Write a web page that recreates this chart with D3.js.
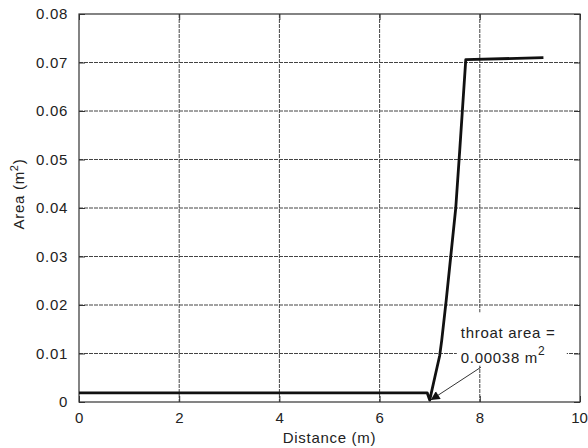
<!DOCTYPE html>
<html>
<head>
<meta charset="utf-8">
<script src="https://cdn.jsdelivr.net/npm/d3@7"></script>
<style>
  html, body { margin: 0; padding: 0; background: #fff; }
  text { font-family: "Liberation Sans", Arial, Helvetica, sans-serif; fill: #222; }
</style>
</head>
<body>
<svg id="chart" width="588" height="448"></svg>
<script>
// ---- data ----
const distance = [0, 6.95, 7.0, 7.1, 7.2, 7.24, 7.33, 7.42, 7.52, 7.6, 7.72, 9.27];
const area     = [0.0019, 0.0019, 0.00038, 0.005, 0.0096, 0.0127, 0.021, 0.030, 0.040, 0.052, 0.0706, 0.0710];
const xTicks = [0, 2, 4, 6, 8, 10];
const yTicks = [0, 0.01, 0.02, 0.03, 0.04, 0.05, 0.06, 0.07, 0.08];
const yTickLabels = ["0", "0.01", "0.02", "0.03", "0.04", "0.05", "0.06", "0.07", "0.08"];
const annotationLines = ["throat area =", "0.00038 m"];
const arrowFrom = [8.02, 0.00715];
const arrowTo = [7.02, 0.0004];
const xLabel = "Distance (m)";
const yLabel = "Area (m";

// ---- layout ----
const W = 588, H = 448;
const m = { left: 79, right: 8, top: 14, bottom: 46 };
const svg = d3.select("#chart");
const x = d3.scaleLinear().domain([0, 10]).range([m.left, W - m.right]);
const y = d3.scaleLinear().domain([0, 0.08]).range([H - m.bottom, m.top]);
const iw = W - m.left - m.right, ih = H - m.top - m.bottom;

svg.append("defs").append("marker")
  .attr("id", "arrow").attr("viewBox", "0 0 10 10")
  .attr("refX", 10).attr("refY", 5)
  .attr("markerWidth", 14).attr("markerHeight", 9)
  .attr("markerUnits", "userSpaceOnUse")
  .attr("orient", "auto")
  .append("path").attr("d", "M0,0 L10,5 L0,10 z").attr("fill", "#111");

// grid
const grid = svg.append("g");
grid.selectAll(".gx").data(xTicks.slice(1, -1)).enter().append("line")
  .attr("x1", d => x(d)).attr("x2", d => x(d))
  .attr("y1", m.top).attr("y2", H - m.bottom)
  .attr("stroke", "#444").attr("stroke-width", 1).attr("stroke-dasharray", "4,1");
grid.selectAll(".gy").data(yTicks.slice(1, -1)).enter().append("line")
  .attr("y1", d => y(d)).attr("y2", d => y(d))
  .attr("x1", m.left).attr("x2", W - m.right)
  .attr("stroke", "#444").attr("stroke-width", 1).attr("stroke-dasharray", "4,1");

// axes (ticks inside on all sides)
const tickLen = 6;
const axB = svg.append("g").attr("transform", `translate(0,${H - m.bottom})`)
  .call(d3.axisBottom(x).tickValues(xTicks).tickSizeInner(-tickLen).tickSizeOuter(0).tickPadding(tickLen + 4));
const axT = svg.append("g").attr("transform", `translate(0,${m.top})`)
  .call(d3.axisTop(x).tickValues(xTicks).tickSizeInner(-tickLen).tickSizeOuter(0).tickFormat(""));
const axL = svg.append("g").attr("transform", `translate(${m.left},0)`)
  .call(d3.axisLeft(y).tickValues(yTicks).tickSizeInner(-tickLen).tickSizeOuter(0).tickPadding(tickLen + 5)
    .tickFormat((d, i) => yTickLabels[i]));
const axR = svg.append("g").attr("transform", `translate(${W - m.right},0)`)
  .call(d3.axisRight(y).tickValues(yTicks).tickSizeInner(-tickLen).tickSizeOuter(0).tickFormat(""));
[axB, axT, axL, axR].forEach(a => {
  a.select(".domain").remove();
  a.selectAll(".tick line").attr("stroke", "#333");
  a.selectAll("text").style("font-size", "15px").style("letter-spacing", "0.7px")
   .attr("fill", "#222");
});
// keep the last x label inside the window
axB.selectAll(".tick text").filter(d => d === 10).attr("dx", -1).style("letter-spacing", "0px");

// box
svg.append("rect").attr("x", m.left).attr("y", m.top).attr("width", iw).attr("height", ih)
  .attr("fill", "none").attr("stroke", "#333").attr("stroke-width", 1.2);

// data line
const pts = distance.map((d, i) => [d, area[i]]);
svg.append("path").datum(pts)
  .attr("d", d3.line().x(d => x(d[0])).y(d => y(d[1])))
  .attr("fill", "none").attr("stroke", "#111").attr("stroke-width", 2.8)
  .attr("stroke-linejoin", "round");

// annotation box (white background covers grid)
const tx = x(arrowFrom[0]) - 22;
svg.append("rect").attr("x", tx - 2).attr("y", y(0.0185)).attr("width", 110)
  .attr("height", y(0.0075) - y(0.0185)).attr("fill", "#fff");
const ann = svg.append("g").style("font-size", "15px").style("letter-spacing", "0.7px");
ann.append("text").attr("x", tx + 2).attr("y", y(0.0131)).text(annotationLines[0]);
const t2 = ann.append("text").attr("x", tx + 2).attr("y", y(0.0080));
t2.append("tspan").text(annotationLines[1]);
t2.append("tspan").attr("dy", -8).style("font-size", "12px").text("2");

// arrow
svg.append("line")
  .attr("x1", x(arrowFrom[0])).attr("y1", y(arrowFrom[1]))
  .attr("x2", x(arrowTo[0])).attr("y2", y(arrowTo[1]))
  .attr("stroke", "#333").attr("stroke-width", 1)
  .attr("marker-end", "url(#arrow)");

// axis labels
svg.append("text").attr("x", x(5)).attr("y", H - 5).attr("text-anchor", "middle")
  .style("font-size", "15px").style("letter-spacing", "0.7px").text(xLabel);
const yl = svg.append("text").attr("transform", `translate(24,${(m.top + H - m.bottom) / 2 - 14}) rotate(-90)`)
  .attr("text-anchor", "middle").style("font-size", "15px").style("letter-spacing", "0.7px");
yl.append("tspan").text(yLabel);
yl.append("tspan").attr("dy", -6).style("font-size", "11px").text("2");
yl.append("tspan").attr("dy", 6).text(")");
</script>
</body>
</html>
